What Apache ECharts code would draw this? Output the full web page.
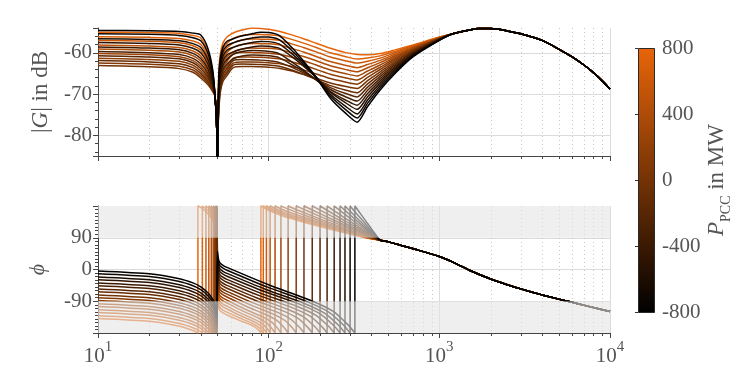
<!DOCTYPE html>
<html><head><meta charset="utf-8">
<script src="https://cdn.jsdelivr.net/npm/echarts@6/dist/echarts.min.js"></script>
<style>html,body{margin:0;padding:0;background:#fff}#c{width:750px;height:375px}</style>
</head><body><div id="c"></div>
<script>
// ---------------- DATA ----------------
const P_VALUES = [-800, -700, -600, -500, -400, -300, -200, -100, 0, 100, 200, 300, 400, 500, 600, 700, 800];

// magnitude (dB) per curve, at MAG_FREQ (Hz)
const MAG_FREQ = [10, 20, 30, 36, 40, 44, 47, 48.5, 49.6, 50, 50.4, 51, 52, 54, 57, 62, 70, 80, 90, 100, 115, 135, 160, 190, 230, 280, 330, 380, 450, 550, 700, 1000];
const MAG_N800 = [-54.6, -54.68, -54.84, -55.24, -55.71, -58.89, -64.14, -70.5, -78, -95, -80, -66, -61.5, -58.6, -57.2, -56.6, -55.9, -55.4, -55.05, -55.1, -55.8, -58.5, -62, -66, -71, -74.5, -76.8, -73, -69, -65, -61, -57.0];
const MAG_N700 = [-55.4, -55.54, -55.79, -56.34, -57.08, -60.14, -64.93, -70.5, -78, -95, -80, -67.1, -62.6, -59.7, -58.3, -57.6, -56.9, -56.4, -56.15, -56.2, -56.83, -59.25, -62.4, -65.95, -70.48, -73.63, -75.8, -72.2, -68.45, -64.64, -60.82, -56.95];
const MAG_N600 = [-56.6, -56.79, -57.1, -57.78, -58.72, -61.57, -65.81, -70.5, -78, -95, -80, -68.2, -63.7, -60.8, -59.4, -58.7, -58.0, -57.5, -57.25, -57.3, -57.85, -60.02, -62.83, -66.0, -70.05, -72.86, -74.8, -71.44, -67.9, -64.29, -60.64, -56.9];
const MAG_N500 = [-57.5, -57.74, -58.11, -58.9, -60.02, -62.72, -66.52, -70.5, -78, -95, -80, -69.3, -64.8, -61.9, -60.5, -59.8, -59.1, -58.6, -58.35, -58.4, -58.87, -60.76, -63.23, -66.0, -69.54, -72.01, -73.7, -70.66, -67.35, -63.93, -60.46, -56.85];
const MAG_N400 = [-58.6, -58.87, -59.28, -60.15, -61.4, -63.9, -67.23, -70.5, -78, -95, -80, -70.4, -65.9, -63.0, -61.6, -60.4, -59.7, -59.45, -59.5, -59.67, -60.2, -62.06, -64.19, -66.58, -69.38, -71.37, -72.7, -69.88, -66.8, -63.58, -60.28, -56.8];
const MAG_N300 = [-59.7, -59.99, -60.44, -61.35, -62.68, -64.98, -67.87, -70.5, -78, -95, -80, -71.5, -67.0, -64.1, -62.7, -61.5, -60.8, -60.55, -60.6, -60.72, -61.17, -62.74, -64.53, -66.55, -68.9, -70.58, -71.7, -69.09, -66.25, -63.22, -60.09, -56.75];
const MAG_N200 = [-60.7, -61.01, -61.47, -62.42, -63.81, -65.92, -68.42, -70.5, -78, -95, -80, -72.6, -68.1, -65.2, -63.8, -61.9, -61.62, -61.69, -61.78, -61.96, -62.33, -63.42, -64.88, -66.51, -68.43, -69.79, -70.7, -68.31, -65.7, -62.86, -59.91, -56.7];
const MAG_N100 = [-61.9, -62.21, -62.67, -63.6, -64.99, -66.86, -68.94, -70.5, -78, -95, -80, -73.7, -69.2, -66.3, -64.9, -63.0, -62.72, -62.77, -62.84, -62.98, -63.26, -64.1, -65.22, -66.48, -67.95, -69.0, -69.7, -67.53, -65.15, -62.51, -59.73, -56.65];
const MAG_Z000 = [-63.1, -63.4, -63.84, -64.73, -66.06, -67.69, -69.39, -70.5, -78, -95, -80, -74.3, -69.8, -66.9, -65.5, -63.6, -63.32, -63.35, -63.41, -63.51, -63.73, -64.37, -65.23, -66.19, -67.31, -68.12, -68.65, -66.75, -64.6, -62.15, -59.55, -56.6];
const MAG_P100 = [-62.5, -62.8, -63.26, -64.17, -65.54, -67.28, -69.18, -70.5, -78, -95, -80, -73.2, -68.7, -65.8, -64.4, -62.5, -62.22, -62.25, -62.31, -62.42, -62.63, -63.28, -64.14, -65.12, -66.25, -67.06, -67.6, -65.97, -64.05, -61.79, -59.37, -56.55];
const MAG_P200 = [-61.3, -61.61, -62.07, -63.01, -64.41, -66.4, -68.69, -70.5, -78, -95, -80, -72.0, -67.5, -64.6, -63.2, -61.3, -61.02, -61.06, -61.11, -61.22, -61.45, -62.12, -63.02, -64.02, -65.2, -66.04, -66.6, -65.19, -63.5, -61.44, -59.19, -56.5];
const MAG_P300 = [-60.2, -60.5, -60.96, -61.89, -63.26, -65.46, -68.15, -70.5, -78, -95, -80, -70.9, -66.4, -63.5, -62.1, -60.2, -59.92, -59.96, -60.01, -60.13, -60.36, -61.04, -61.95, -62.98, -64.18, -65.03, -65.6, -64.41, -62.95, -61.08, -59.01, -56.45];
const MAG_P400 = [-59.1, -59.38, -59.82, -60.71, -62.01, -64.42, -67.54, -70.5, -78, -95, -80, -69.8, -65.3, -62.4, -61.0, -59.8, -59.1, -58.85, -58.9, -58.92, -59.15, -59.96, -60.89, -61.93, -63.15, -64.02, -64.6, -63.63, -62.4, -60.73, -58.83, -56.4];
const MAG_P500 = [-58.1, -58.35, -58.75, -59.57, -60.76, -63.35, -66.9, -70.5, -78, -95, -80, -68.7, -64.2, -61.3, -59.9, -58.7, -58.0, -57.75, -57.8, -57.82, -58.05, -58.88, -59.82, -60.89, -62.13, -63.01, -63.6, -62.84, -61.85, -60.37, -58.64, -56.35];
const MAG_P600 = [-57.0, -57.21, -57.56, -58.3, -59.34, -62.12, -66.15, -70.5, -78, -95, -80, -67.6, -63.1, -60.2, -58.8, -57.6, -56.9, -56.65, -56.7, -56.72, -56.95, -57.78, -58.72, -59.79, -61.03, -61.91, -62.5, -62.06, -61.3, -60.01, -58.46, -56.3];
const MAG_P700 = [-56.1, -56.27, -56.54, -57.16, -58.0, -60.93, -65.42, -70.5, -78, -95, -80, -66.5, -62.0, -59.1, -57.7, -56.5, -55.8, -55.55, -55.6, -55.62, -55.86, -56.7, -57.66, -58.74, -60.0, -60.9, -61.5, -61.28, -60.75, -59.66, -58.28, -56.25];
const MAG_P800 = [-55.0, -55.11, -55.31, -55.8, -56.4, -59.52, -64.54, -70.5, -78, -95, -80, -65, -60.5, -57.6, -56.2, -55.2, -54.5, -54.0, -54.1, -54.3, -54.8, -55.6, -56.6, -57.7, -58.9, -59.9, -60.4, -60.5, -60.2, -59.3, -58.1, -56.2];
// shared high-frequency magnitude
const MAG_TAIL_FREQ = [1200, 1500, 1700, 2000, 2500, 3000, 4000, 5000, 6000, 7000, 8000, 9000, 10000];
const MAG_TAIL = [-55.4, -54.5, -54.15, -54.15, -54.7, -55.4, -57.0, -59.1, -61.0, -62.9, -64.8, -66.8, -68.8];

// phase (deg) per curve as [frequency, phase]; wraps at +/-180 kept as read
const PH_N800 = [[10,-4],[20,-12],[30,-26],[36,-38],[40,-49],[44,-66],[47,-84],[48.5,-99],[49.6,-119],[49.9,-126],[50.1,51],[50.4,38],[51,26],[52,18],[54,12],[57,6],[100.7,-44],[175,-87],[239,-118.6],[293,-157.7],[320,-180],[320,180],[350,154.2],[380,130.2],[420,101.8]];
const PH_N700 = [[10,-12],[20,-20],[30,-34],[36,-46],[40,-57],[44,-74],[47,-92],[48.5,-107],[49.6,-127],[49.9,-134],[50.1,43],[50.4,30],[51,18],[52,10],[54,4],[57,-2],[98.6,-50.1],[167.7,-91],[226,-121.3],[276,-158.6],[300,-180],[300,180],[320,163.9],[350,142.3],[380,122.2],[420,98.6]];
const PH_N600 = [[10,-21],[20,-29],[30,-43],[36,-55],[40,-66],[44,-83],[47,-101],[48.5,-116],[49.6,-136],[49.9,-143],[50.1,34],[50.4,21],[51,9],[52,1],[54,-5],[57,-11],[96.4,-56.6],[160.4,-95.5],[213.6,-124.2],[258.6,-159.7],[280,-180],[280,180],[320,151.6],[350,133.2],[380,116.1]];
const PH_N500 = [[10,-29],[20,-37],[30,-51],[36,-63],[40,-74],[44,-91],[47,-109],[48.5,-124],[49.6,-144],[49.9,-151],[50.1,26],[50.4,13],[51,1],[52,-7],[54,-13],[57,-19],[94.3,-62.5],[153.7,-99.5],[202.1,-126.9],[242.8,-160.7],[262,-180],[262,180],[280,167.7],[320,142.7],[380,111.7]];
const PH_N400 = [[10,-38],[20,-46],[30,-60],[36,-72],[40,-83],[44,-100],[47,-118],[48.5,-133],[49.6,-153],[49.9,-160],[50.1,17],[50.4,4],[51,-8],[52,-16],[54,-22],[57,-28],[91.8,-69],[145.9,-104],[189.3,-129.8],[225.2,-161.8],[242,-180],[242,180],[280,156.3],[320,134.6],[380,107.6]];
const PH_N300 = [[10,-46],[20,-54],[30,-68],[36,-80],[40,-91],[44,-108],[47,-126],[48.5,-141],[49.6,-161],[49.9,-168],[50.1,9],[50.4,-4],[51,-16],[52,-24],[54,-30],[57,-36],[89,-74.9],[137.2,-108],[174.9,-132.5],[205.6,-162.7],[220,-180],[220,180],[240,167.5],[280,145.9],[380,103.9]];
const PH_N200 = [[10,-55],[20,-63],[30,-77],[36,-89],[40,-100],[44,-117],[47,-135],[48.5,-150],[49.6,-170],[49.9,-177],[50.1,0],[50.4,-13],[51,-25],[52,-33],[54,-39],[57,-45],[86.2,-81.5],[128.9,-112.5],[161.6,-135.5],[187.9,-163.8],[200,-180],[200,180],[240,157],[280,137.9],[380,101.1]];
const PH_N100 = [[10,-63],[20,-71],[30,-85],[36,-97],[40,-108],[44,-125],[47,-143],[48.5,-158],[49.6,-178],[49.69,-180],[49.69,180],[49.9,175],[50.1,-8],[50.4,-21],[51,-33],[52,-41],[54,-47],[57,-53],[83.3,-87.3],[120.4,-116.5],[148,-138.1],[170,-164.8],[180,-180],[180,180],[200,168.5],[280,131.2],[380,98.7]];
const PH_Z000 = [[10,-72],[20,-80],[30,-94],[36,-106],[40,-117],[44,-134],[47,-152],[48.5,-167],[49.2,-180],[49.2,180],[49.6,173],[49.9,166],[50.1,-17],[50.4,-30],[51,-42],[52,-50],[54,-56],[57,-62],[80.3,-93.9],[112,-121],[134.9,-141.1],[152.9,-165.8],[161,-180],[161,180],[200,158.4],[280,125.3],[380,96.6]];
const PH_P100 = [[10,-80],[20,-88],[30,-102],[36,-114],[40,-125],[44,-142],[47,-160],[48.5,-175],[48.8,-180],[48.8,180],[49.6,165],[49.9,158],[50.1,-25],[50.4,-38],[51,-50],[52,-58],[54,-64],[57,-70],[77.6,-99.7],[104.6,-125],[123.7,-143.7],[138.4,-166.8],[145,-180],[145,180],[150,176.7],[200,150.6],[280,120.7],[380,95]];
const PH_P200 = [[10,-88],[20,-96],[30,-110],[36,-122],[40,-133],[44,-150],[47,-168],[48.2,-180],[48.2,180],[48.5,177],[49.6,157],[49.9,150],[50.1,-33],[50.4,-46],[51,-58],[52,-66],[54,-72],[57,-78],[74.8,-105.5],[97.4,-129],[113,-146.3],[124.8,-167.8],[130,-180],[130,180],[150,167.2],[200,143.6],[280,116.6],[380,93.5]];
const PH_P300 = [[10,-97],[20,-105],[30,-119],[36,-131],[40,-142],[44,-159],[47,-177],[47.3,-180],[47.3,180],[48.5,168],[49.6,148],[49.9,141],[50.1,-42],[50.4,-55],[51,-67],[52,-75],[54,-81],[57,-87],[72.4,-112.1],[91.4,-133.5],[104.3,-149.3],[113.8,-168.8],[118,-180],[118,180],[120,178.2],[150,159.7],[200,138.1],[280,113.4],[380,92.3]];
const PH_P400 = [[10,-105],[20,-113],[30,-127],[36,-139],[40,-150],[44,-167],[46.1,-180],[46.1,180],[47,175],[48.5,160],[49.6,140],[49.9,133],[50.1,-50],[50.4,-63],[51,-75],[52,-83],[54,-89],[57,-95],[70.6,-118],[86.9,-137.5],[97.6,-152],[105.5,-169.8],[109,-180],[109,180],[120,170.2],[150,153.1],[200,133.2],[280,110.5],[380,91.3]];
const PH_P500 = [[10,-114],[20,-122],[30,-136],[36,-148],[40,-159],[44,-176],[44.6,-180],[44.6,180],[47,166],[48.5,151],[49.6,131],[49.9,124],[50.1,-59],[50.4,-72],[51,-84],[52,-92],[54,-98],[57,-104],[69.1,-124.5],[83.2,-142],[92.4,-154.9],[99.1,-170.9],[102,-180],[102,180],[120,164.2],[150,148.1],[200,129.5],[280,108.4],[380,90.6]];
const PH_P600 = [[10,-122],[20,-130],[30,-144],[36,-156],[40,-167],[42.9,-180],[42.9,180],[44,176],[47,158],[48.5,143],[49.6,123],[49.9,116],[50.1,-67],[50.4,-80],[51,-92],[52,-100],[54,-106],[57,-112],[67.9,-130.4],[80.5,-146],[88.6,-157.6],[94.5,-171.8],[97,-180],[97,180],[100,176.3],[120,159.3],[150,144.1],[200,126.5],[280,106.6],[380,89.9]];
const PH_P700 = [[10,-131],[20,-139],[30,-153],[36,-165],[40,-176],[40.9,-180],[40.9,180],[44,167],[47,149],[48.5,134],[49.6,114],[49.9,107],[50.1,-76],[50.4,-89],[51,-101],[52,-109],[54,-115],[57,-121],[67,-136.9],[78.4,-150.5],[85.6,-160.5],[90.8,-172.9],[93,-180],[93,180],[100,171.5],[120,155.1],[150,140.6],[200,123.9],[280,105.1],[380,89.4]];
const PH_P800 = [[10,-139],[20,-147],[30,-161],[36,-173],[38.5,-180],[38.5,180],[40,176],[44,159],[47,141],[48.5,126],[49.6,106],[49.9,99],[50.1,-84],[50.4,-97],[51,-109],[52,-117],[54,-123],[57,-129],[66.3,-142.8],[76.7,-154.5],[83.3,-163.2],[87.9,-173.9],[90,-180],[90,180],[100,168],[120,152],[150,138],[200,122],[280,104],[380,89]];
// shared high-frequency phase
const PH_TAIL_FREQ = [450, 500, 600, 750, 1000, 1200, 1500, 2000, 2500, 3000, 4000, 5000, 6000, 7000, 8000, 10000];
const PH_TAIL = [83, 79, 68, 55, 37, 21, -2, -27, -43, -55, -72, -84, -93, -101, -108, -119];

// axis tick values
const MINOR_FREQ = [20, 30, 40, 50, 60, 70, 80, 90, 200, 300, 400, 500, 600, 700, 800, 900, 2000, 3000, 4000, 5000, 6000, 7000, 8000, 9000];
const SHADED_BANDS = [[90, 180], [-180, -90]];
const CBAR_RANGE = [-800, 800];

// ---------------- CHART ----------------
const MAG_BY_P = {'-800': MAG_N800, '-700': MAG_N700, '-600': MAG_N600, '-500': MAG_N500, '-400': MAG_N400, '-300': MAG_N300, '-200': MAG_N200, '-100': MAG_N100, '0': MAG_Z000, '100': MAG_P100, '200': MAG_P200, '300': MAG_P300, '400': MAG_P400, '500': MAG_P500, '600': MAG_P600, '700': MAG_P700, '800': MAG_P800};
const PH_BY_P = {'-800': PH_N800, '-700': PH_N700, '-600': PH_N600, '-500': PH_N500, '-400': PH_N400, '-300': PH_N300, '-200': PH_N200, '-100': PH_N100, '0': PH_Z000, '100': PH_P100, '200': PH_P200, '300': PH_P300, '400': PH_P400, '500': PH_P500, '600': PH_P600, '700': PH_P700, '800': PH_P800};

const FONT = 'Liberation Serif';
const TXT = '#555555';
const AX = '#444444';
const TOP = [232, 101, 10];
function pColor(p) {
  const t = (p - CBAR_RANGE[0]) / (CBAR_RANGE[1] - CBAR_RANGE[0]);
  return 'rgb(' + Math.round(TOP[0] * t) + ',' + Math.round(TOP[1] * t) + ',' + Math.round(TOP[2] * t) + ')';
}

const series = [];
function minorGrid(xi, yi, yv) {
  return {
    type: 'custom', xAxisIndex: xi, yAxisIndex: yi, z: 1, silent: true, clip: false, animation: false,
    data: MINOR_FREQ.map(f => [f, yv]),
    renderItem: (params, api) => {
      const x = Math.round(api.coord([api.value(0), api.value(1)])[0]) + 0.5;
      const cs = params.coordSys;
      return { type: 'group', children: [
        { type: 'line', shape: { x1: x, y1: cs.y, x2: x, y2: cs.y + cs.height }, style: { stroke: '#c4c4c4', lineWidth: 1, lineDash: [1, 3] } },
        { type: 'line', shape: { x1: x, y1: cs.y + cs.height, x2: x, y2: cs.y + cs.height + 3 }, style: { stroke: AX, lineWidth: 1 } }
      ] };
    }
  };
}
series.push(minorGrid(0, 0, -60));
series.push(minorGrid(1, 1, 0));

const order = P_VALUES.slice().reverse();
order.forEach(p => {
  const m = MAG_BY_P[p];
  const magData = MAG_FREQ.map((f, i) => [f, m[i]]).concat(MAG_TAIL_FREQ.map((f, i) => [f, MAG_TAIL[i]]));
  series.push({ type: 'line', xAxisIndex: 0, yAxisIndex: 0, data: magData, symbol: 'none', smooth: 0.25,
    lineStyle: { color: pColor(p), width: 1.5 }, z: 3, silent: true, animation: false });
});
order.forEach(p => {
  const phData = PH_BY_P[p].concat(PH_TAIL_FREQ.map((f, i) => [f, PH_TAIL[i]]));
  series.push({ type: 'line', xAxisIndex: 1, yAxisIndex: 1, data: phData, symbol: 'none', smooth: 0.2,
    lineStyle: { color: pColor(p), width: 1.5 }, z: 3, silent: true, animation: false });
});
// shaded phase bands drawn over the curves
series.push({
  type: 'custom', xAxisIndex: 1, yAxisIndex: 1, z: 20, silent: true, animation: false,
  data: SHADED_BANDS, encode: { y: [0, 1] },
  renderItem: (params, api) => {
    const cs = params.coordSys;
    const ya = api.coord([10, api.value(0)])[1];
    const yb = api.coord([10, api.value(1)])[1];
    return { type: 'rect', shape: { x: cs.x, y: Math.min(ya, yb), width: cs.width, height: Math.abs(ya - yb) }, style: { fill: 'rgba(228,228,228,0.6)' } };
  }
});
// colorbar
series.push({
  type: 'custom', xAxisIndex: 2, yAxisIndex: 2, z: 5, silent: true, animation: false,
  data: [[0, CBAR_RANGE[0], CBAR_RANGE[1]]], encode: { x: 0, y: [1, 2] },
  renderItem: (params, api) => {
    const cs = params.coordSys;
    const yTop = api.coord([0, api.value(2)])[1];
    const yBot = api.coord([0, api.value(1)])[1];
    return { type: 'rect', shape: { x: cs.x + 0.5, y: yTop + 0.5, width: cs.width, height: yBot - yTop },
      style: { fill: new echarts.graphic.LinearGradient(0, 0, 0, 1, [{ offset: 0, color: 'rgb(' + TOP.join(',') + ')' }, { offset: 1, color: '#000' }]), stroke: '#2a2a2a', lineWidth: 1 } };
  }
});

const logAxisBase = {
  type: 'log', logBase: 10, min: 10, max: 10000,
  axisLine: { show: true, onZero: false, lineStyle: { color: AX, width: 1 } },
  axisTick: { show: true, length: 5, lineStyle: { color: AX } },
  splitLine: { show: true, lineStyle: { color: '#dcdcdc', width: 1 } },
  minorTick: { show: false }, minorSplitLine: { show: false }
};
const LBL = 21;

const option = {
  animation: false,
  backgroundColor: '#ffffff',
  textStyle: { fontFamily: FONT },
  grid: [
    { left: 98, top: 28, width: 512, height: 128, containLabel: false },
    { left: 98, top: 206, width: 512, height: 127, containLabel: false },
    { left: 638, top: 48, width: 16, height: 264, containLabel: false }
  ],
  xAxis: [
    Object.assign({}, logAxisBase, { gridIndex: 0, axisLabel: { show: false } }),
    Object.assign({}, logAxisBase, { gridIndex: 1,
      axisLabel: { show: true, margin: 7, color: TXT, fontFamily: FONT,
        formatter: v => '{b|10}{e|' + Math.round(Math.log10(v)) + '}',
        rich: { b: { fontSize: LBL, fontFamily: FONT, color: TXT, verticalAlign: 'bottom', lineHeight: 27 },
                e: { fontSize: 15, fontFamily: FONT, color: TXT, verticalAlign: 'top', lineHeight: 27 } } } }),
    { gridIndex: 2, type: 'value', min: 0, max: 1, show: false }
  ],
  yAxis: [
    { gridIndex: 0, type: 'value', min: -85, max: -54, splitNumber: 3,
      axisLine: { show: true, onZero: false, lineStyle: { color: AX } },
      axisTick: { show: true, length: 5, lineStyle: { color: AX } },
      minorTick: { show: true, splitNumber: 5, length: 3, lineStyle: { color: AX } },
      axisLabel: { color: TXT, fontSize: LBL, fontFamily: FONT, margin: 6, showMinLabel: false, showMaxLabel: false },
      splitLine: { show: true, showMinLine: false, showMaxLine: false, lineStyle: { color: '#dcdcdc' } },
      name: '|{i|G}| in dB', nameLocation: 'middle', nameGap: 46, nameRotate: 90,
      nameTextStyle: { color: TXT, fontSize: 23, fontFamily: FONT, rich: { i: { fontStyle: 'italic', fontSize: 23, fontFamily: FONT, color: TXT } } } },
    { gridIndex: 1, type: 'value', min: -180, max: 180, interval: 90,
      axisLine: { show: true, onZero: false, lineStyle: { color: AX } },
      axisTick: { show: true, length: 5, lineStyle: { color: AX } },
      minorTick: { show: true, splitNumber: 9, length: 3, lineStyle: { color: AX } },
      axisLabel: { color: TXT, fontSize: LBL, fontFamily: FONT, margin: 6, showMinLabel: false, showMaxLabel: false },
      splitLine: { show: true, showMinLine: false, showMaxLine: false, lineStyle: { color: '#dcdcdc' } },
      name: 'ϕ', nameLocation: 'middle', nameGap: 49, nameRotate: 90,
      nameTextStyle: { color: TXT, fontSize: 22, fontStyle: 'italic', fontFamily: FONT } },
    { gridIndex: 2, type: 'value', min: CBAR_RANGE[0], max: CBAR_RANGE[1], interval: 400, position: 'right',
      axisLine: { show: false },
      axisTick: { show: true, length: 3, inside: true, lineStyle: { color: '#333' } },
      axisLabel: { color: TXT, fontSize: LBL, fontFamily: FONT, margin: 8 },
      splitLine: { show: false },
      name: '{i|P}{s|PCC}{n| in MW}', nameLocation: 'middle', nameGap: 51, nameRotate: 90,
      nameTextStyle: { color: TXT, fontFamily: FONT, fontSize: 23,
        rich: { i: { fontStyle: 'italic', fontSize: 23, fontFamily: FONT, color: TXT, verticalAlign: 'top', lineHeight: 28 },
                s: { fontSize: 14, fontFamily: FONT, color: TXT, verticalAlign: 'bottom', lineHeight: 28 },
                n: { fontSize: 23, fontFamily: FONT, color: TXT, verticalAlign: 'top', lineHeight: 28 } } } }
  ],
  series: series
};
const chart = echarts.init(document.getElementById('c'), null, { renderer: 'canvas' });
chart.setOption(option);
</script></body></html>
